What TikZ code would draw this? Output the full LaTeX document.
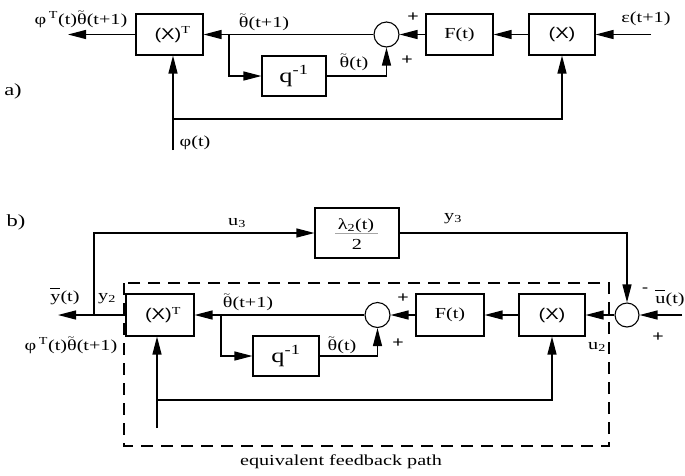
\documentclass[tikz,border=0pt]{standalone}
\usepackage{fontspec}
\setmainfont[FakeStretch=1.32]{Liberation Serif}
\newfontfamily\hv[FakeStretch=1.3]{Liberation Sans}
\usetikzlibrary{arrows.meta}
\newcommand\tth{\leavevmode\rlap{\raisebox{0.62em}{\fontsize{9}{9}\selectfont\kern0.08em\textasciitilde}}θ}
\newcommand\obar[1]{\leavevmode\rlap{\raisebox{0.8em}{\rule{#1}{0.6pt}}}}
\begin{document}
\begin{tikzpicture}[x=1pt,y=-1pt,
  font=\fontsize{15.3}{17}\selectfont,
  blk/.style={draw, line width=1.1pt, inner sep=0pt},
  sumn/.style={draw, circle, line width=1.1pt, minimum size=25pt, inner sep=0pt},
  con/.style={line width=1.25pt, -{Triangle[length=18pt,width=9pt]}},
  lbl/.style={inner sep=0pt, anchor=base},
  pl/.style={inner sep=0pt, font=\hv\fontsize{15}{15}\selectfont},
  dbox/.style={line width=1.1pt, dash pattern=on 12pt off 8pt}]
\useasboundingbox (0,0) rectangle (685,475);

% ---------------- a) ----------------
\node[lbl, font=\fontsize{17}{17}\selectfont] (la) at (13,95) {a)};
\node[blk, minimum width=67pt, minimum height=41pt] (XTa) at (169.5,34.5) {\hspace{6pt}{\hv\fontsize{15.5}{16}\selectfont (X)}\textsuperscript{T}};
\node[blk, minimum width=64pt, minimum height=40pt] (qa) at (294,76) {\fontsize{20}{20}\selectfont q\textsuperscript{-1}};
\node[sumn] (suma) at (386.5,34.5) {};
\node[blk, minimum width=67pt, minimum height=41pt] (Fa) at (459.5,34.5) {F(t)};
\node[blk, minimum width=66pt, minimum height=41pt] (Xa) at (562,34.5) {\raisebox{2pt}{\hv\fontsize{15.5}{16}\selectfont (X)}};

\coordinate (outa) at (68,34.5);
\coordinate (bra) at (229,34.5);
\coordinate (epsa) at (651,34.5);
\coordinate (phia) at (173,150);
\coordinate (fba) at (173,119);

\draw[con] (XTa.west) -- (outa);
\draw[con] (suma.west) -- (XTa.east);
\draw[con] (bra) |- (qa.west);
\draw[con] (qa.east) -| (suma.south);
\draw[con] (Fa.west) -- (suma.east);
\draw[con] (Xa.west) -- (Fa.east);
\draw[con] (epsa) -- (Xa.east);
\draw[con] (phia) -- (phia |- XTa.south);
\draw[con] (fba) -| (Xa.south);

\node[lbl] (ta1) at (81,24) {φ\,\textsuperscript{T}(t)\tth(t+1)};
\node[lbl] (ta2) at (264,27) {\tth(t+1)};
\node[lbl] (ta3) at (354,67) {\tth(t)};
\node[pl] (pa1) at (413,17) {+};
\node[pl] (pa2) at (407,60) {+};
\node[lbl] (ta4) at (646,22) {ε(t+1)};
\node[lbl] (ta5) at (195,146) {φ(t)};

% ---------------- b) ----------------
\node[lbl, font=\fontsize{17}{17}\selectfont] (lb) at (16,226) {b)};
\node[blk, minimum width=84pt, minimum height=50pt] (lam) at (357,233) {};
\node[lbl] (lamt) at (356,229) {λ\textsubscript{2}(t)};
\draw[gray!70, line width=1.2pt] (335,233.5) -- (378,233.5);
\node[lbl] (lamd) at (357,249) {2};

\node[blk, minimum width=68pt, minimum height=42pt] (XTb) at (160,315) {\hspace{6pt}{\hv\fontsize{15.5}{16}\selectfont (X)}\textsuperscript{T}};
\node[blk, minimum width=66pt, minimum height=40pt] (qb) at (286,356) {\fontsize{20}{20}\selectfont q\textsuperscript{-1}};
\node[sumn] (sumb) at (377.5,315) {};
\node[blk, minimum width=68pt, minimum height=42pt] (Fb) at (450,315) {F(t)};
\node[blk, minimum width=66pt, minimum height=42pt] (Xb) at (552,315) {\raisebox{2pt}{\hv\fontsize{15.5}{16}\selectfont (X)}};
\node[sumn, minimum size=24pt] (Sb) at (627,315) {};

\draw[dbox] (124,283) rectangle (609,446);

\coordinate (outb) at (58,315);
\coordinate (u3c) at (94,315);
\coordinate (uin) at (682,315);
\coordinate (brb) at (221,315);
\coordinate (fbb) at (157,428);
\coordinate (fbh) at (157,400);

\draw[con] (XTb.west) -- (outb);
\draw[con] (u3c) |- (lam.west);
\draw[con] (lam.east) -| (Sb.north);
\draw[con] (uin) -- (Sb.east);
\draw[con] (Sb.west) -- (Xb.east);
\draw[con] (Xb.west) -- (Fb.east);
\draw[con] (Fb.west) -- (sumb.east);
\draw[con] (sumb.west) -- (XTb.east);
\draw[con] (brb) |- (qb.west);
\draw[con] (qb.east) -| (sumb.south);
\draw[con] (fbb) -- (fbb |- XTb.south);
\draw[con] (fbh) -| (Xb.south);

\node[lbl] (tu3) at (237,225) {u\textsubscript{3}};
\node[lbl] (ty3) at (453,220) {y\textsubscript{3}};
\node[lbl] (tyb) at (65,301) {\obar{0.6em}y(t)};
\node[lbl] (ty2) at (107,300) {y\textsubscript{2}};
\node[lbl] (tb1) at (71,350) {φ\,\textsuperscript{T}(t)\tth(t+1)};
\node[lbl] (tb2) at (248,307) {\tth(t+1)};
\node[lbl] (tb3) at (342,350) {\tth(t)};
\node[pl] (pb1) at (403,298) {+};
\node[pl] (pb2) at (398,343) {+};
\node[pl] (mb) at (645,290) {-};
\node[lbl] (tub) at (670,303) {\obar{0.6em}u(t)};
\node[pl] (pb3) at (658,337) {+};
\node[lbl] (tu2) at (597,349) {u\textsubscript{2}};
\node[lbl] (teq) at (341,465) {equivalent feedback path};
\end{tikzpicture}
\end{document}
